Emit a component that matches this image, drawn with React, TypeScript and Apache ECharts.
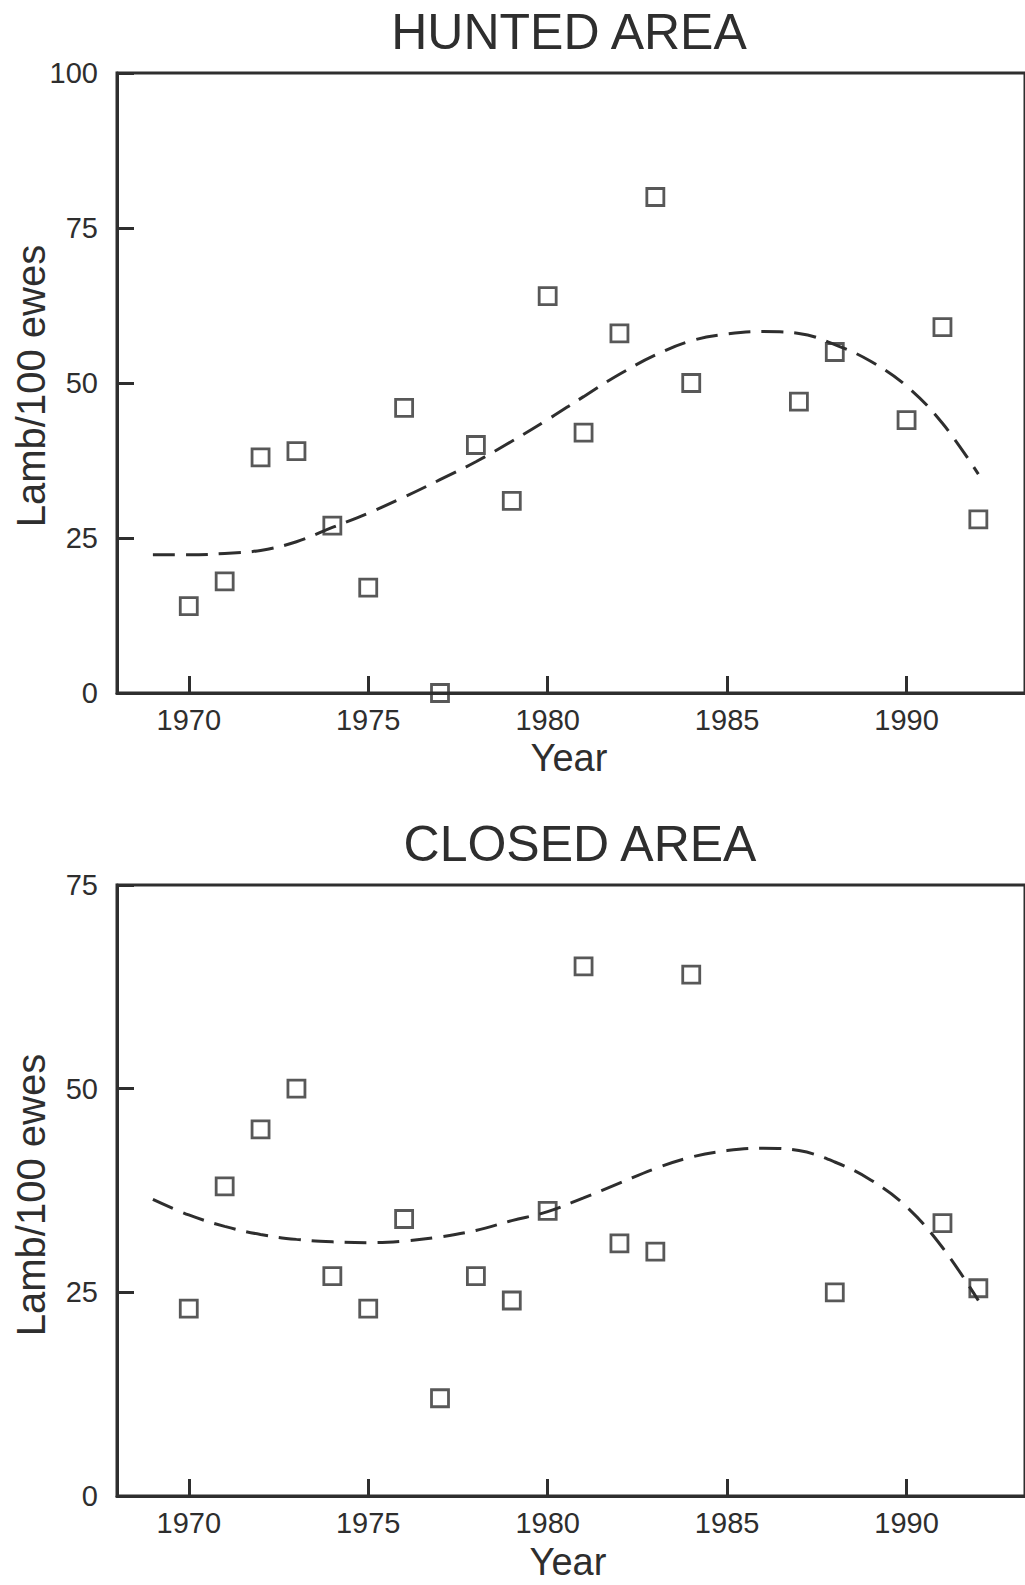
import React, { useEffect, useRef } from "react";
import * as echarts from "echarts";

const tickYears = [1970, 1975, 1980, 1985, 1990];

const huntedYears = [1970, 1971, 1972, 1973, 1974, 1975, 1976, 1977, 1978, 1979, 1980, 1981, 1982, 1983, 1984, 1987, 1988, 1990, 1991, 1992];
const huntedValues = [14, 18, 38, 39, 27, 17, 46, 0, 40, 31, 64, 42, 58, 80, 50, 47, 55, 44, 59, 28];

const closedYears = [1970, 1971, 1972, 1973, 1974, 1975, 1976, 1977, 1978, 1979, 1980, 1981, 1982, 1983, 1984, 1988, 1991, 1992];
const closedValues = [23, 38, 45, 50, 27, 23, 34, 12, 27, 24, 35, 65, 31, 30, 64, 25, 33.5, 25.5];

const curveYears = [1969, 1970, 1971, 1972, 1973, 1974, 1975, 1976, 1977, 1978, 1979, 1980, 1981, 1982, 1983, 1984, 1985, 1986, 1987, 1988, 1989, 1990, 1991, 1992];
const huntedCurve = [22.3, 22.3, 22.5, 23.0, 24.4, 26.7, 29.0, 31.6, 34.4, 37.3, 40.6, 44.1, 47.8, 51.4, 54.5, 56.8, 57.9, 58.3, 58.0, 56.2, 53.5, 49.5, 43.5, 35.3];
const closedCurve = [36.4, 34.5, 33.1, 32.1, 31.5, 31.2, 31.1, 31.3, 31.8, 32.6, 33.8, 34.9, 36.6, 38.4, 40.2, 41.6, 42.4, 42.7, 42.4, 41.0, 38.8, 35.5, 30.5, 24.0];

const titles = ["HUNTED AREA", "CLOSED AREA"];
const yAxisName = "Lamb/100 ewes";
const xAxisName = "Year";

const INK = "#2e2e2e";
const FONT = "'Liberation Sans', Arial, Helvetica, sans-serif";

export default function App() {
  const ref = useRef<HTMLDivElement>(null);

  useEffect(() => {
    if (!ref.current) return;
    const chart = echarts.init(ref.current, undefined, { renderer: "svg" });

    const xAxisBase = (gridIndex: number) => ({
      type: "value",
      gridIndex,
      min: 1968,
      max: 1993.3,
      axisLine: { show: true, lineStyle: { color: INK, width: 3 } },
      axisTick: {
        show: true,
        inside: true,
        length: 17,
        lineStyle: { color: INK, width: 3 },
        customValues: tickYears,
      },
      axisLabel: {
        show: true,
        customValues: tickYears,
        fontSize: 29,
        color: INK,
        fontFamily: FONT,
        margin: 12,
        formatter: (v: number) => String(v),
      },
      splitLine: { show: false },
    });

    const yAxisBase = (gridIndex: number, max: number) => ({
      type: "value",
      gridIndex,
      min: 0,
      max,
      interval: 25,
      axisLine: { show: true, lineStyle: { color: INK, width: 3 } },
      axisTick: { show: true, inside: true, length: 17, lineStyle: { color: INK, width: 3 } },
      axisLabel: { fontSize: 29, color: INK, fontFamily: FONT, margin: 19 },
      splitLine: { show: false },
    });

    const scatterStyle = {
      type: "scatter",
      symbol: "rect",
      symbolSize: 17,
      itemStyle: { color: "rgba(0,0,0,0)", borderColor: INK, borderWidth: 2.8 },
      z: 3,
    };

    const lineStyle = {
      type: "line",
      smooth: 0.4,
      showSymbol: false,
      symbol: "none",
      lineStyle: { color: INK, width: 3, type: [22, 11] },
      z: 4,
    };

    const option = {
      animation: false,
      backgroundColor: "#ffffff",
      grid: [
        { left: 117, top: 73, width: 918, height: 620, show: true, borderColor: INK, borderWidth: 3, backgroundColor: "transparent" },
        { left: 117, top: 885, width: 918, height: 611, show: true, borderColor: INK, borderWidth: 3, backgroundColor: "transparent" },
      ],
      xAxis: [xAxisBase(0), xAxisBase(1)],
      yAxis: [yAxisBase(0, 100), yAxisBase(1, 75)],
      series: [
        { ...scatterStyle, xAxisIndex: 0, yAxisIndex: 0, data: huntedYears.map((y, i) => [y, huntedValues[i]]) },
        { ...lineStyle, xAxisIndex: 0, yAxisIndex: 0, data: curveYears.map((y, i) => [y, huntedCurve[i]]) },
        { ...scatterStyle, xAxisIndex: 1, yAxisIndex: 1, data: closedYears.map((y, i) => [y, closedValues[i]]) },
        { ...lineStyle, xAxisIndex: 1, yAxisIndex: 1, data: curveYears.map((y, i) => [y, closedCurve[i]]) },
      ],
      graphic: [
        { type: "text", x: 569, y: 32, style: { text: titles[0], fontSize: 50, fontFamily: FONT, fill: INK, textAlign: "center", textVerticalAlign: "middle" } },
        { type: "text", x: 580, y: 844, style: { text: titles[1], fontSize: 50, fontFamily: FONT, fill: INK, textAlign: "center", textVerticalAlign: "middle" } },
        { type: "text", x: 31, y: 386, rotation: Math.PI / 2, style: { text: yAxisName, fontSize: 40, fontFamily: FONT, fill: INK, textAlign: "center", textVerticalAlign: "middle" } },
        { type: "text", x: 31, y: 1195, rotation: Math.PI / 2, style: { text: yAxisName, fontSize: 40, fontFamily: FONT, fill: INK, textAlign: "center", textVerticalAlign: "middle" } },
        { type: "text", x: 569, y: 758, style: { text: xAxisName, fontSize: 38, fontFamily: FONT, fill: INK, textAlign: "center", textVerticalAlign: "middle" } },
        { type: "text", x: 568, y: 1562, style: { text: xAxisName, fontSize: 38, fontFamily: FONT, fill: INK, textAlign: "center", textVerticalAlign: "middle" } },
      ],
    };

    chart.setOption(option as any);
    return () => chart.dispose();
  }, []);

  return (
    <div
      ref={ref}
      style={{ position: "absolute", left: 0, top: 0, width: 1025, height: 1585, background: "#fff" }}
    />
  );
}
